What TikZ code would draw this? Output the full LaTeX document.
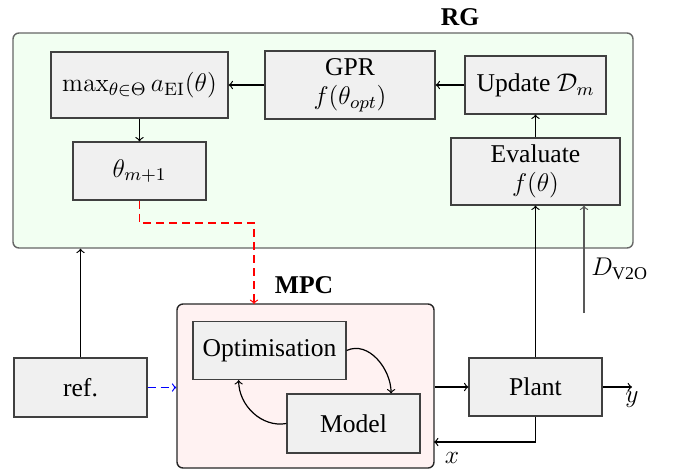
\RequirePackage{fix-cm}
\documentclass[tikz,border=0pt]{standalone}
\usepackage{amsmath}
\usepackage[no-math]{fontspec}
\setmainfont{Liberation Serif}
\newfontfamily\figfont{Liberation Serif}
\usetikzlibrary{calc}

\tikzset{
  blk/.style={draw=black!75, fill=black!6, line width=0.6pt, align=center, inner sep=2pt},
  grp/.style={rounded corners=3pt, line width=0.7pt, inner sep=0pt},
  conn/.style={->, line width=0.6pt},
  dashy/.style={dash pattern=on 4pt off 2.5pt},
  grplabel/.style={font=\figfont\fontsize{12.8pt}{14.5pt}\selectfont\bfseries},
}

\begin{document}
\begin{tikzpicture}[x=0.5pt, y=-0.5pt, font=\figfont\fontsize{12.8pt}{14.5pt}\selectfont]
  \useasboundingbox (0,0) rectangle (673,472);

  % group frames
  \node[grp, draw=black!60, fill=green!5, minimum width=310pt, minimum height=107.5pt] (rg) at (323,140.5) {};
  \node[grp, draw=black!85, fill=red!5, minimum width=128.5pt, minimum height=82pt] (mpc) at (305.5,386) {};
  \node[grplabel] (rglab) at (460,17) {RG};
  \node[grplabel] (mpclab) at (304,285) {MPC};

  % RG blocks
  \node[blk, minimum width=88.5pt, minimum height=33pt] (maxb) at (139.5,85) {$\max_{\theta\in\Theta} a_{\mathrm{EI}}(\theta)$};
  \node[blk, minimum width=85pt, minimum height=34pt] (gpr) at (350,85) {GPR\\$f(\theta_{opt})$};
  \node[blk, minimum width=70.5pt, minimum height=29pt] (upd) at (535.5,85) {Update $\mathcal{D}_m$};
  \node[blk, minimum width=66.5pt, minimum height=29pt] (theta) at (139.5,171) {$\theta_{m+1}$};
  \node[blk, minimum width=84.5pt, minimum height=33.5pt] (eval) at (535.5,171.5) {Evaluate\\$f(\theta)$};

  % MPC blocks
  \node[blk, minimum width=76.5pt, minimum height=29pt] (opt) at (269.5,350.5) {Optimisation};
  \node[blk, minimum width=66.5pt, minimum height=29.5pt] (mdl) at (353.5,423.5) {Model};

  % outer blocks
  \node[blk, minimum width=66.5pt, minimum height=29.5pt] (ref) at (80.5,387.5) {ref.};
  \node[blk, minimum width=66.5pt, minimum height=29pt] (plant) at (535.5,387) {Plant};

  % free ends
  \coordinate (yout) at (632,387);
  \coordinate (xin) at (434,442);
  \coordinate (dstart) at (584,313);
  \coordinate (rbend) at (254,223);
  \coordinate (mpin) at (254,304);

  % RG loop
  \draw[conn] (eval.north) -- (upd.south);
  \draw[conn] (upd.west) -- (gpr.east);
  \draw[conn] (gpr.west) -- (maxb.east);
  \draw[conn] (maxb.south) -- (theta.north);
  \draw[conn, red, dashy] (theta.south) |- (rbend) -- (mpin);

  % MPC internals
  \draw[conn] (opt.east) to[out=25, in=90] ($(mdl.north)!0.56!(mdl.north east)$);
  \draw[conn] (mdl.west) to[out=190, in=-90] ($(opt.south)!0.4!(opt.south west)$);

  % signals
  \draw[conn] (ref.north) -- (ref.north |- rg.south);
  \draw[conn, blue, dashy] (ref.east) -- (ref.east -| mpc.west);
  \draw[conn] (mpc.east |- plant.west) -- (plant.west);
  \draw[conn] (plant.east) -- (yout);
  \node[anchor=north, inner sep=2pt] (ylab) at (yout) {$y$};
  \draw[conn] (plant.south) |- (xin);
  \node (xlab) at (452,458) {$x$};
  \draw[conn] (plant.north) -- (eval.south);
  \draw[conn, black!65] (dstart) -- (dstart |- eval.south);
  \node[anchor=west, inner sep=0pt] (dlab) at (591,269) {$D_{\text{V2O}}$};
\end{tikzpicture}
\end{document}
